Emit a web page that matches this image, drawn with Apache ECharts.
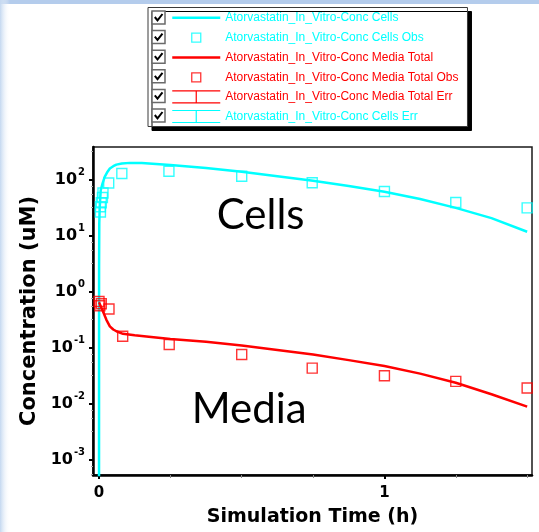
<!DOCTYPE html>
<html>
<head>
<meta charset="utf-8">
<script src="https://cdn.jsdelivr.net/npm/echarts@6/dist/echarts.min.js"></script>
<style>html,body{margin:0;padding:0;background:#fff}#c{width:539px;height:532px}</style>
</head>
<body>
<div id="c"></div>
<script>
// ---- data ----
const seriesNames = [
  'Atorvastatin_In_Vitro-Conc Cells',
  'Atorvastatin_In_Vitro-Conc Cells Obs',
  'Atorvastatin_In_Vitro-Conc Media Total',
  'Atorvastatin_In_Vitro-Conc Media Total Obs',
  'Atorvastatin_In_Vitro-Conc Media Total Err',
  'Atorvastatin_In_Vitro-Conc Cells Err'
];
const cellsSimTime = [0, 0.0003, 0.001, 0.0025, 0.006, 0.012, 0.02, 0.03, 0.038, 0.05, 0.061, 0.08, 0.108, 0.15, 0.2, 0.25, 0.375, 0.5, 0.625, 0.75, 0.875, 1.0, 1.125, 1.25, 1.375, 1.5];
const cellsSimConc = [1e-5, 3, 17, 33, 66, 86, 115, 142, 162, 178, 190, 199, 204, 202, 195, 187, 165, 141, 118, 98, 79, 62, 46, 32, 21, 12];
const mediaSimTime = [0, 0.005, 0.014, 0.026, 0.038, 0.05, 0.061, 0.084, 0.125, 0.166, 0.25, 0.375, 0.5, 0.625, 0.75, 0.875, 1.0, 1.125, 1.25, 1.375, 1.5];
const mediaSimConc = [0.66, 0.58, 0.45, 0.32, 0.245, 0.215, 0.2, 0.18, 0.17, 0.162, 0.146, 0.13, 0.111, 0.093, 0.077, 0.061, 0.048, 0.035, 0.024, 0.015, 0.009];
const cellsObsTime = [0.005, 0.005, 0.008, 0.012, 0.014, 0.034, 0.08, 0.245, 0.5, 0.747, 1.0, 1.25, 1.5];
const cellsObsConc = [27, 33.5, 39.5, 49, 59, 89, 132, 145, 118, 90, 63, 40, 32];
const mediaObsTime = [0, 0.003, 0.008, 0.035, 0.083, 0.246, 0.5, 0.747, 1.0, 1.25, 1.5];
const mediaObsConc = [0.68, 0.57, 0.62, 0.50, 0.163, 0.116, 0.077, 0.044, 0.032, 0.0255, 0.0194];
const yTickValues = [0.001, 0.01, 0.1, 1, 10, 100];
const xMajorTicks = [0, 1];
const xMinorTicks = [0.25, 0.5, 0.75, 1.25, 1.5];
const annotationTexts = ['Cells', 'Media'];
const xTitle = 'Simulation Time (h)';
const yTitle = 'Concentration (uM)';

// ---- styles ----
const CYAN = '#00FFFF', RED = '#FF0000';
const seriesColors = [CYAN, CYAN, RED, RED, RED, CYAN];
const zip = (xs, ys) => xs.map((x, i) => [x, ys[i]]);
const axisFont = 'DejaVu Sans';

const legendIcons = [
  'path://M0 0M0 12M0 6H48',
  'path://M0 0M48 12M19.5 1.5H28.5V10.5H19.5Z',
  'path://M0 0M0 12M0 6H48',
  'path://M0 0M48 12M19.5 1.5H28.5V10.5H19.5Z',
  'path://M0 0H48M24 0V12M0 12H48',
  'path://M0 0H48M24 0V12M0 12H48'
];
const legendWidths = [2.5, 1.3, 2.5, 1.3, 1.2, 1.2];

const legendLeft = 148, legendTop = 7.5, rowH = 14, rowGap = 5.6, padTop = 3;
const graphics = [
  {type: 'rect', z: -10, shape: {x: 0, y: 0, width: 539, height: 4}, style: {fill: '#B4CCEC'}},
  {type: 'rect', z: -10, shape: {x: 0, y: 0, width: 10, height: 532},
   style: {fill: new echarts.graphic.LinearGradient(0, 0, 1, 0, [{offset: 0, color: '#C4D8F0'}, {offset: 1, color: 'rgba(255,255,255,0)'}])}}
];
seriesNames.forEach((n, i) => {
  const yc = legendTop + padTop + rowH / 2 + i * (rowH + rowGap);
  graphics.push({type: 'rect', z: 100, shape: {x: 152, y: yc - 6.5, width: 13, height: 13},
    style: {fill: '#fff', stroke: '#6a6a6a', lineWidth: 1.5}});
  graphics.push({type: 'polyline', z: 101, shape: {points: [[154.8, yc - 0.5], [157.5, yc + 2.8], [162.5, yc - 3.5]]},
    style: {stroke: '#000', lineWidth: 2, fill: null}});
});
graphics.push({type: 'text', z: 50, x: 216.7, y: 215, style: {text: annotationTexts[0], fontFamily: 'Lato', fontSize: 42, fill: '#000', verticalAlign: 'middle', align: 'left'}});
graphics.push({type: 'text', z: 50, x: 191.7, y: 409, style: {text: annotationTexts[1], fontFamily: 'Lato', fontSize: 42, fill: '#000', verticalAlign: 'middle', align: 'left'}});

const chart = echarts.init(document.getElementById('c'), null, {renderer: 'canvas'});
chart.setOption({
  animation: false,
  backgroundColor: '#fff',
  grid: {left: 93, right: 7, top: 147, bottom: 56, show: true, borderColor: '#1a1a1a', borderWidth: 1.5},
  legend: {
    orient: 'vertical', left: legendLeft, top: legendTop, padding: [padTop, 9, padTop, 23],
    itemGap: rowGap, itemWidth: 48, itemHeight: 12, symbolKeepAspect: false, selectedMode: false,
    backgroundColor: '#fff', borderColor: '#3a3a3a', borderWidth: 1,
    shadowColor: '#000', shadowOffsetX: 4, shadowOffsetY: 4, shadowBlur: 0,
    textStyle: {fontFamily: 'Liberation Sans', fontSize: 12, lineHeight: rowH},
    data: seriesNames.map((n, i) => ({
      name: n, icon: legendIcons[i],
      itemStyle: {color: 'rgba(0,0,0,0)', borderColor: seriesColors[i], borderWidth: legendWidths[i]},
      textStyle: {color: seriesColors[i]}
    }))
  },
  xAxis: [
    {
      type: 'value', min: -0.021, max: 1.517, position: 'bottom',
      axisLine: {show: true, onZero: false, lineStyle: {color: '#000', width: 2.5}},
      axisTick: {show: true, customValues: xMajorTicks, length: 4, lineStyle: {color: '#000', width: 2}},
      axisLabel: {customValues: xMajorTicks, margin: 11, fontFamily: axisFont, fontWeight: 'bold', fontSize: 15, color: '#000'},
      splitLine: {show: false},
      name: xTitle, nameLocation: 'middle', nameGap: 33,
      nameTextStyle: {fontFamily: axisFont, fontWeight: 'bold', fontSize: 19, color: '#000'}
    },
    {
      type: 'value', min: -0.021, max: 1.517, position: 'bottom',
      axisLine: {show: false, onZero: false},
      axisTick: {show: true, customValues: xMinorTicks, length: 3, lineStyle: {color: '#8c8c8c', width: 1}},
      axisLabel: {show: false}, splitLine: {show: false}
    }
  ],
  yAxis: [
    {
      type: 'log', logBase: 10, min: 0.000541, max: 392,
      axisLine: {show: true, onZero: false, lineStyle: {color: '#000', width: 2.5}},
      axisTick: {show: true, customValues: yTickValues, length: 4, lineStyle: {color: '#000', width: 2}},
      minorTick: {show: true, splitNumber: 4, length: 2, lineStyle: {color: '#aaa', width: 1}},
      axisLabel: {
        customValues: yTickValues, margin: 8,
        formatter: v => '{b|10}{e|' + Math.round(Math.log10(v)) + '}',
        rich: {
          b: {fontFamily: axisFont, fontWeight: 'bold', fontSize: 16, color: '#000', lineHeight: 26},
          e: {fontFamily: axisFont, fontWeight: 'bold', fontSize: 10, color: '#000', verticalAlign: 'top', lineHeight: 12, padding: [0, 0, 0, 1]}
        }
      },
      splitLine: {show: false},
      name: yTitle, nameLocation: 'middle', nameGap: 52, nameRotate: 90,
      nameTextStyle: {fontFamily: axisFont, fontWeight: 'bold', fontSize: 21, color: '#000'}
    }
  ],
  graphic: graphics,
  series: [
    {name: seriesNames[0], type: 'line', data: zip(cellsSimTime, cellsSimConc), symbol: 'none', clip: true,
     lineStyle: {color: CYAN, width: 2.5}, itemStyle: {color: CYAN}, z: 3},
    {name: seriesNames[1], type: 'scatter', data: zip(cellsObsTime, cellsObsConc), symbol: 'rect', symbolSize: 10,
     itemStyle: {color: 'rgba(0,0,0,0)', borderColor: CYAN, borderWidth: 1.4}, z: 4},
    {name: seriesNames[2], type: 'line', data: zip(mediaSimTime, mediaSimConc), symbol: 'none', clip: true,
     lineStyle: {color: RED, width: 2.5}, itemStyle: {color: RED}, z: 3},
    {name: seriesNames[3], type: 'scatter', data: zip(mediaObsTime, mediaObsConc), symbol: 'rect', symbolSize: 10,
     itemStyle: {color: 'rgba(0,0,0,0)', borderColor: RED, borderWidth: 1.4}, z: 4},
    {name: seriesNames[4], type: 'line', data: [], symbol: 'none', lineStyle: {color: RED}, itemStyle: {color: RED}},
    {name: seriesNames[5], type: 'line', data: [], symbol: 'none', lineStyle: {color: CYAN}, itemStyle: {color: CYAN}}
  ]
});
</script>
</body>
</html>
